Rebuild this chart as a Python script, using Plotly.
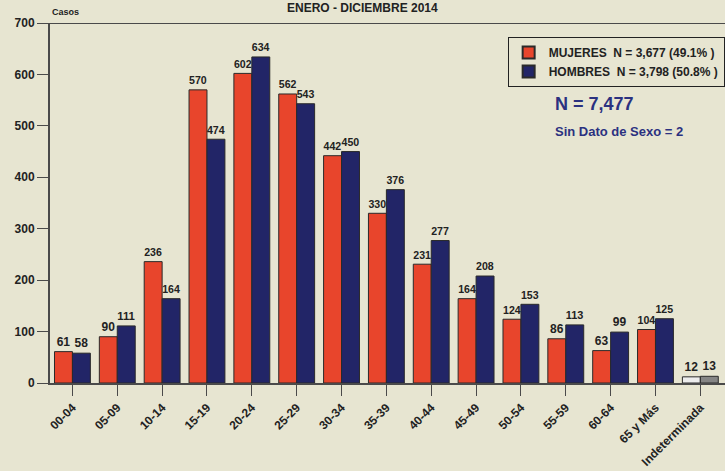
import plotly.graph_objects as go

categories = ["00-04", "05-09", "10-14", "15-19", "20-24", "25-29", "30-34", "35-39",
              "40-44", "45-49", "50-54", "55-59", "60-64", "65 y Más", "Indeterminada"]
mujeres = [61, 90, 236, 570, 602, 562, 442, 330, 231, 164, 124, 86, 63, 104, 12]
hombres = [58, 111, 164, 474, 634, 543, 450, 376, 277, 208, 153, 113, 99, 125, 13]
y_ticks = [0, 100, 200, 300, 400, 500, 600, 700]

BG = "#e7e5d1"
RED = "#e8452c"
NAVY = "#222567"
FONT = "Liberation Sans, Arial, sans-serif"

red_colors = [RED] * (len(categories) - 1) + ["#ececec"]
navy_colors = [NAVY] * (len(categories) - 1) + ["#858585"]

fig = go.Figure()
fig.add_trace(go.Bar(
    x=categories, y=mujeres, name="MUJERES  N = 3,677 (49.1% )",
    marker=dict(color=red_colors, line=dict(color="#2a2a2a", width=1)),
    text=mujeres, textposition="outside", cliponaxis=False,
    textfont=dict(family=FONT, size=12, color="#222222", weight="bold"),
))
fig.add_trace(go.Bar(
    x=categories, y=hombres, name="HOMBRES  N = 3,798 (50.8% )",
    marker=dict(color=navy_colors, line=dict(color="#2a2a2a", width=1)),
    text=hombres, textposition="outside", cliponaxis=False,
    textfont=dict(family=FONT, size=12, color="#222222", weight="bold"),
))

fig.update_layout(
    width=725, height=471,
    paper_bgcolor=BG, plot_bgcolor=BG,
    margin=dict(l=50, r=0, t=23, b=88),
    barmode="group", bargap=0.2, bargroupgap=0.0,
    font=dict(family=FONT, color="#222222"),
    showlegend=True,
    legend=dict(
        x=0.678, y=0.961, xanchor="left", yanchor="top",
        bgcolor=BG, bordercolor="#222222", borderwidth=1,
        font=dict(family=FONT, size=12, color="#222222", weight="bold"),
        tracegroupgap=0, itemsizing="constant", itemwidth=30,
    ),
    xaxis=dict(
        type="category",
        range=[-0.5, 14.55], showline=True, linecolor="#4a4a4a", linewidth=2,
        mirror=False, ticks="outside", ticklen=11, tickcolor="#4a4a4a", tickwidth=1,
        tickangle=-45, showgrid=False, zeroline=False,
        tickfont=dict(family=FONT, size=12, color="#222222", weight="bold"),
    ),
    yaxis=dict(
        range=[0, 700], tickvals=y_ticks, showline=True, linecolor="#4a4a4a", linewidth=2,
        ticks="outside", ticklen=11, tickcolor="#4a4a4a", tickwidth=1,
        showgrid=False, zeroline=False,
        tickfont=dict(family=FONT, size=12, color="#222222", weight="bold"),
    ),
    shapes=[dict(type="line", xref="paper", yref="y", x0=0, x1=1, y0=700, y1=700,
                 line=dict(color="#4a4a4a", width=2))],
    annotations=[
        dict(text="<b>ENERO - DICIEMBRE 2014</b>", xref="paper", yref="paper",
             x=(362 - 50) / 675, y=(383 - 8) / 360, xanchor="center", yanchor="middle",
             showarrow=False, font=dict(family=FONT, size=12, color="#222222")),
        dict(text="<b>Casos</b>", xref="paper", yref="paper",
             x=0.0, y=(383 - 12) / 360, xanchor="left", yanchor="middle",
             showarrow=False, font=dict(family=FONT, size=9, color="#222222")),
        dict(text="<b>N = 7,477</b>", xref="paper", yref="paper",
             x=(553 - 50) / 675, y=(383 - 104) / 360, xanchor="left", yanchor="middle",
             showarrow=False, font=dict(family=FONT, size=18, color="#2b3180")),
        dict(text="<b>Sin Dato de Sexo = 2</b>", xref="paper", yref="paper",
             x=(553 - 50) / 675, y=(383 - 131) / 360, xanchor="left", yanchor="middle",
             showarrow=False, font=dict(family=FONT, size=13, color="#2b3180")),
    ],
)

fig.write_html("out.html", config={"displayModeBar": False},
               post_script="document.body.style.margin='0';")
